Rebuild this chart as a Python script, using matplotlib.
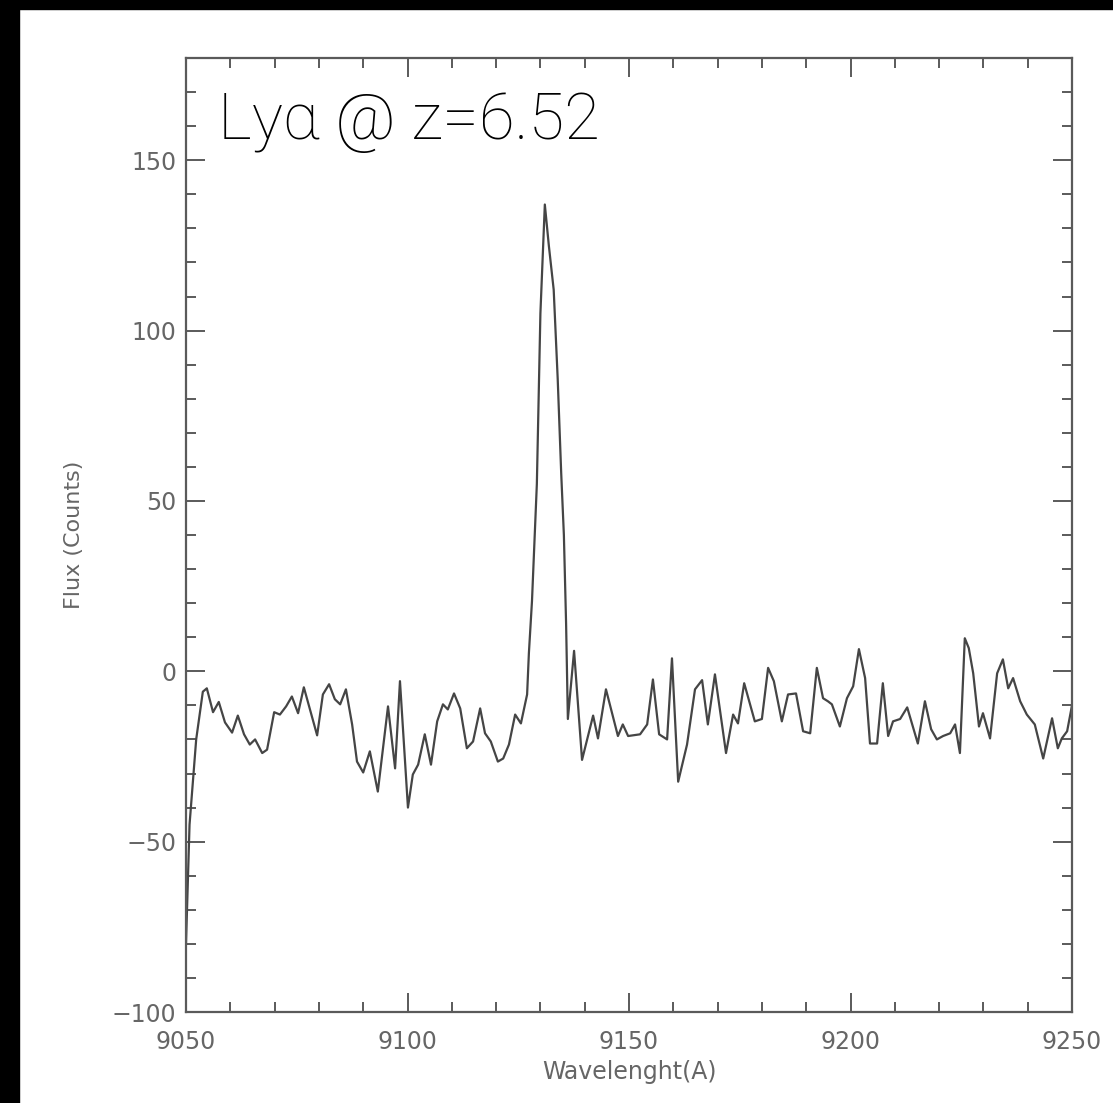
import matplotlib
matplotlib.use("Agg")
import matplotlib.pyplot as plt
from matplotlib.patches import Rectangle
from matplotlib.ticker import MultipleLocator

wavelength = [
    9050.0, 9050.8, 9052.3, 9053.8, 9054.7, 9056.1, 9057.4, 9058.8, 9060.4, 9061.7,
    9063.1, 9064.4, 9065.6, 9067.2, 9068.3, 9069.9, 9071.2, 9072.6, 9073.9, 9075.3,
    9076.6, 9079.6, 9080.9, 9082.3, 9083.6, 9084.8, 9086.1, 9087.5, 9088.6, 9090.0,
    9091.5, 9093.3, 9095.6, 9097.2, 9098.3, 9100.1, 9101.2, 9102.4, 9103.9, 9105.3,
    9106.7, 9108.0, 9109.1, 9110.5, 9111.9, 9113.4, 9114.8, 9116.4, 9117.5, 9118.8,
    9120.4, 9121.6, 9122.9, 9124.3, 9125.6, 9127.0, 9127.4, 9128.1, 9129.2, 9130.0,
    9131.0, 9131.9, 9133.0, 9133.9, 9134.7, 9135.3, 9135.8, 9136.2, 9137.6, 9139.4,
    9141.9, 9143.0, 9144.8, 9147.5, 9148.6, 9149.8, 9152.5, 9154.1, 9155.4, 9156.8,
    9158.6, 9159.7, 9161.1, 9163.1, 9164.9, 9166.5, 9167.8, 9169.4, 9171.9, 9173.5,
    9174.6, 9176.0, 9178.4, 9180.0, 9181.4, 9182.7, 9184.5, 9185.9, 9187.7, 9189.3,
    9190.9, 9192.4, 9193.8, 9194.9, 9195.8, 9197.6, 9199.2, 9200.6, 9201.9, 9203.3,
    9204.4, 9206.0, 9207.3, 9208.5, 9209.6, 9211.2, 9212.8, 9215.2, 9216.8, 9218.2,
    9219.5, 9220.9, 9222.5, 9223.6, 9224.7, 9225.8, 9226.7, 9227.7, 9229.0, 9229.9,
    9231.5, 9233.1, 9234.4, 9235.6, 9236.7, 9238.3, 9239.8, 9241.6, 9243.5, 9245.5,
    9246.8, 9247.7, 9248.9, 9250.0,
]
flux = [
    -80, -45, -20, -6, -5, -12, -9, -15, -18, -13,
    -18.5, -21.5, -20, -24, -23, -12, -12.7, -10.3, -7.4, -12.3,
    -4.7, -18.8, -6.8, -3.8, -8.2, -9.7, -5.3, -15.6, -26.5, -29.7,
    -23.5, -35.3, -10.3, -28.5, -2.9, -40, -30.3, -27.4, -18.5, -27.4,
    -14.7, -9.7, -11.2, -6.5, -10.9, -22.6, -20.6, -10.9, -18.2, -20.6,
    -26.5, -25.6, -21.5, -12.7, -15.3, -6.8, 5.3, 20.6, 55, 105,
    137, 125, 112, 86, 58, 40, 14, -14, 6, -26,
    -13, -19.7, -5.3, -19, -15.6, -19, -18.5, -15.6, -2.4, -18.5,
    -20, 3.8, -32.4, -21.5, -5.3, -2.6, -15.6, -0.9, -24, -12.7,
    -15.3, -3.5, -14.7, -14, 1, -2.9, -14.7, -6.8, -6.5, -17.6,
    -18.2, 1, -7.9, -8.8, -9.7, -16.2, -7.9, -4.4, 6.5, -2,
    -21.2, -21.2, -3.5, -19, -14.7, -14, -10.6, -21.2, -8.8, -17,
    -20, -19, -18.2, -15.6, -24, 9.7, 6.8, -0.6, -16.2, -12.3,
    -19.7, -0.6, 3.5, -5, -2, -8.8, -12.7, -15.6, -25.6, -13.8,
    -22.6, -19.7, -17.6, -10,
]
x_ticks = [9050, 9100, 9150, 9200, 9250]
y_ticks = [-100, -50, 0, 50, 100, 150]
y_tick_labels = ["\u2212100", "\u221250", "0", "50", "100", "150"]

W, H = 1113, 1103
fig = plt.figure(figsize=(W / 100, H / 100), dpi=100)
fig.patch.set_facecolor("white")

# black bands (top and left)
fig.patches.append(Rectangle((0, 1 - 9 / H), 1, 9 / H, transform=fig.transFigure,
                             color="black", zorder=0))
fig.patches.append(Rectangle((0, 0), 19 / W, 1, transform=fig.transFigure,
                             color="black", zorder=0))

ax = fig.add_axes([186 / W, 1 - 1012 / H, (1072 - 186) / W, (1012 - 58) / H])
grey = "#5a5a5a"
ax.plot(wavelength, flux, color="#454545", lw=1.6)
ax.set_xlim(9050, 9250)
ax.set_ylim(-100, 180)
ax.set_xticks(x_ticks)
ax.set_yticks(y_ticks)
ax.set_yticklabels(y_tick_labels)
ax.xaxis.set_minor_locator(MultipleLocator(10))
ax.yaxis.set_minor_locator(MultipleLocator(10))
ax.tick_params(which="both", direction="in", top=True, right=True,
               color=grey, width=1.4, labelcolor="#666666", labelsize=17)
ax.tick_params(which="major", length=14)
ax.tick_params(which="minor", length=7)
ax.tick_params(axis="x", which="major", pad=13)
ax.tick_params(axis="y", which="major", pad=7)
for s in ax.spines.values():
    s.set_color(grey)
    s.set_linewidth(1.6)

ax.set_xlabel("Wavelenght(A)", color="#666666", fontsize=17, labelpad=4)
ax.set_ylabel("Flux (Counts)", color="#666666", fontsize=16, labelpad=20)

fig.text(218 / W, 1 - 139 / H, "Ly\u03b1 @ z=6.52", fontsize=47, color="black",
         family=["Roboto", "DejaVu Sans"], fontweight="light", ha="left", va="baseline")

fig.savefig("out.png", dpi=100, facecolor="white")
